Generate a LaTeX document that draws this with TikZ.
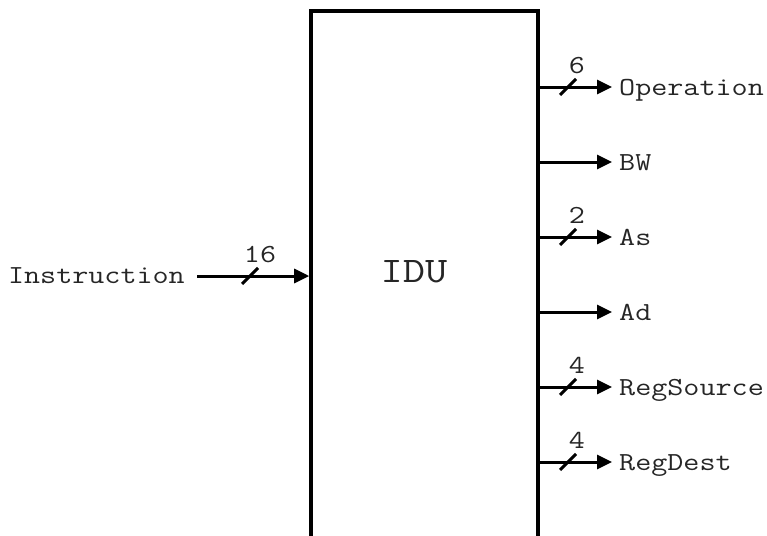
\documentclass[tikz,border=0pt]{standalone}
\usetikzlibrary{arrows.meta}
\newcommand{\wide}[1]{\scalebox{1.2}[1]{#1}}
\begin{document}
\begin{tikzpicture}[x=1pt,y=-1pt,
  txt/.style={font=\fontsize{26}{30}\selectfont\ttfamily, text=black!85, inner sep=0pt},
  big/.style={font=\fontsize{36}{40}\selectfont\ttfamily, text=black!85, inner sep=0pt},
  bus/.style={line width=3pt, -{Triangle[length=15pt,width=14pt]}},
  slash/.style={line width=3pt},
  block/.style={draw, line width=3.6pt, minimum width=227pt, minimum height=560pt, inner sep=0pt}]
\useasboundingbox (0,0) rectangle (767,535);
\clip (0,0) rectangle (767,535);
\node[block] (idu) at (424.5,291) {};
\node[big, anchor=base] (name) at (414,282) {\wide{IDU}};
% input
\node[txt, anchor=base east] (instr) at (185,283) {\wide{Instruction}};
\draw[bus] ([xshift=12pt]instr.east |- 0,276) -- (idu.west |- 0,276);
\draw[slash] (242,284) -- (258,268);
\node[txt, anchor=base] (w16) at (260,262) {\wide{16}};
% outputs
\coordinate (e1) at (612,87);
\coordinate (e2) at (612,162);
\coordinate (e3) at (612,237);
\coordinate (e4) at (612,312);
\coordinate (e5) at (612,387);
\coordinate (e6) at (612,462);
\node[txt, anchor=base west] (op) at (619,95) {\wide{Operation}};
\node[txt, anchor=base west] (bw) at (619,170) {\wide{BW}};
\node[txt, anchor=base west] (as) at (619,245) {\wide{As}};
\node[txt, anchor=base west] (ad) at (619,320) {\wide{Ad}};
\node[txt, anchor=base west] (rs) at (619,395) {\wide{RegSource}};
\node[txt, anchor=base west] (rd) at (619,470) {\wide{RegDest}};
\foreach \e in {e1,e2,e3,e4,e5,e6}{
  \draw[bus] (idu.east |- \e) -- (\e);
}
\foreach \y in {87,237,387,462}{
  \draw[slash] (560,\y+8) -- (576,\y-8);
}
\node[txt, anchor=base] (w1) at (577,73.5) {\wide{6}};
\node[txt, anchor=base] (w3) at (577,223.5) {\wide{2}};
\node[txt, anchor=base] (w5) at (577,373.5) {\wide{4}};
\node[txt, anchor=base] (w6) at (577,448.5) {\wide{4}};
\end{tikzpicture}
\end{document}
